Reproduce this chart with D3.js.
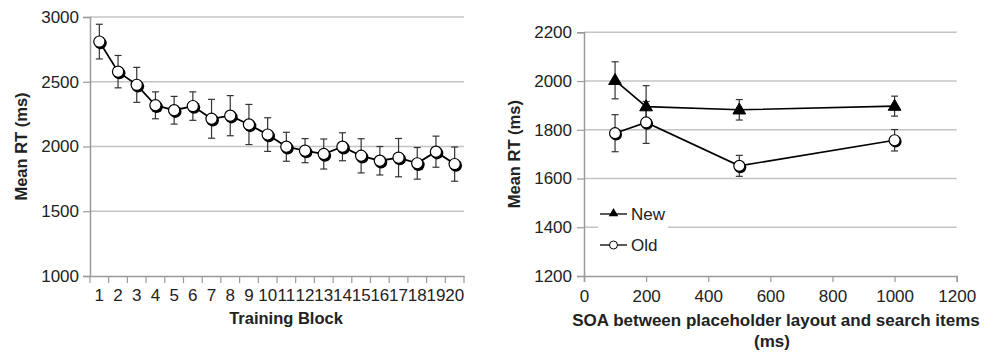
<!DOCTYPE html>
<html>
<head>
<meta charset="utf-8">
<script src="https://cdn.jsdelivr.net/npm/d3@7"></script>
<style>
  html, body { margin: 0; padding: 0; background: #fff; }
  svg { display: block; }
  text { font-family: "Liberation Sans", Arial, sans-serif; fill: #222; }
</style>
</head>
<body>
<svg id="chart" width="995" height="353"></svg>
<script>
// ---------- Data ----------
// Left panel: Mean RT across training blocks
const blocks = ["1","2","3","4","5","6","7","8","9","10","11","12","13","14","15","16","17","18","19","20"];
const blockRT = [2810, 2578, 2476, 2318, 2280, 2312, 2214, 2238, 2170, 2092, 1998, 1968, 1942, 1998, 1928, 1890, 1914, 1870, 1960, 1864];
const blockErr = [134, 125, 135, 104, 107, 110, 150, 155, 155, 130, 112, 93, 116, 108, 132, 110, 148, 122, 120, 132];
const leftYTicks = [1000, 1500, 2000, 2500, 3000];

// Right panel: Mean RT by SOA
const soa = [100, 200, 500, 1000];
const newRT = [2003, 1895, 1882, 1897];
const newErr = [76, 86, 42, 41];
const oldRT = [1786, 1830, 1652, 1757];
const oldErr = [76, 86, 43, 44];
const rightYTicks = [1200, 1400, 1600, 1800, 2000, 2200];
const rightXTicks = [0, 200, 400, 600, 800, 1000, 1200];

// ---------- Drawing ----------
const svg = d3.select("#chart");
const gridColor = "#c4c4c4";
const axisColor = "#9a9a9a";
const errColor = "#333";

// ===== Left panel =====
const L = { left: 90, right: 464, top: 17, bottom: 276 };
const xL = d3.scaleBand().domain(blocks).range([L.left, L.right]);
const yL = d3.scaleLinear().domain([1000, 3000]).range([L.bottom, L.top]);

const gL = svg.append("g");
gL.selectAll("line.grid").data(leftYTicks.filter(d => d > 1000)).join("line")
  .attr("x1", L.left).attr("x2", L.right)
  .attr("y1", d => yL(d)).attr("y2", d => yL(d))
  .attr("stroke", gridColor).attr("stroke-width", 1.5);

const yAxL = gL.append("g").attr("transform", `translate(${L.left},0)`)
  .call(d3.axisLeft(yL).tickValues(leftYTicks).tickSize(7).tickPadding(4).tickFormat(d3.format("d")));
yAxL.select(".domain").attr("stroke", axisColor).attr("stroke-width", 1.5);
yAxL.selectAll(".tick line").attr("stroke", axisColor).attr("stroke-width", 1.2);
yAxL.selectAll("text").attr("font-size", 17).attr("fill", "#222").style("font-family", "'Liberation Sans', Arial, sans-serif");

const xAxL = gL.append("g").attr("transform", `translate(0,${L.bottom})`)
  .call(d3.axisBottom(xL).tickSize(0).tickPadding(13));
xAxL.select(".domain").attr("stroke", axisColor).attr("stroke-width", 1.5);
xAxL.selectAll("text").attr("font-size", 17).attr("fill", "#222").style("font-family", "'Liberation Sans', Arial, sans-serif");
const boundaries = blocks.map(b => xL(b)).concat([xL(blocks[blocks.length - 1]) + xL.bandwidth()]);
gL.selectAll("line.xtick").data(boundaries).join("line")
  .attr("x1", d => d).attr("x2", d => d)
  .attr("y1", L.bottom).attr("y2", L.bottom + 7)
  .attr("stroke", axisColor).attr("stroke-width", 1.2);

const cxL = (d, i) => xL(blocks[i]) + xL.bandwidth() / 2;
const eb = gL.append("g");
blocks.forEach((b, i) => {
  const cx = cxL(null, i), hi = yL(blockRT[i] + blockErr[i]), lo = yL(blockRT[i] - blockErr[i]);
  eb.append("line").attr("x1", cx).attr("x2", cx).attr("y1", hi).attr("y2", lo).attr("stroke", errColor).attr("stroke-width", 1.2);
  eb.append("line").attr("x1", cx - 3.5).attr("x2", cx + 3.5).attr("y1", hi).attr("y2", hi).attr("stroke", errColor).attr("stroke-width", 1.2);
  eb.append("line").attr("x1", cx - 3.5).attr("x2", cx + 3.5).attr("y1", lo).attr("y2", lo).attr("stroke", errColor).attr("stroke-width", 1.2);
});

const lineL = d3.line().x((d, i) => cxL(d, i)).y(d => yL(d));
gL.append("path").datum(blockRT).attr("d", lineL)
  .attr("fill", "none").attr("stroke", "#000").attr("stroke-width", 1.8);

gL.selectAll("circle.sh").data(blockRT).join("circle")
  .attr("cx", (d, i) => cxL(d, i) + 1.2).attr("cy", d => yL(d) + 1.5)
  .attr("r", 6.2).attr("fill", "#000");
gL.selectAll("circle.mk").data(blockRT).join("circle")
  .attr("cx", (d, i) => cxL(d, i)).attr("cy", d => yL(d))
  .attr("r", 5.6).attr("fill", "#fff").attr("stroke", "#000").attr("stroke-width", 1.2);

gL.append("text").attr("transform", `translate(27,${(L.top + L.bottom) / 2}) rotate(-90)`)
  .attr("text-anchor", "middle").attr("font-size", 16.5).attr("font-weight", "bold")
  .text("Mean RT (ms)");
gL.append("text").attr("x", 286).attr("y", 324)
  .attr("text-anchor", "middle").attr("font-size", 16.5).attr("font-weight", "bold")
  .text("Training Block");

// ===== Right panel =====
const R = { left: 584, right: 956.7, top: 32.3, bottom: 276 };
const xR = d3.scaleLinear().domain([0, 1200]).range([R.left, R.right]);
const yR = d3.scaleLinear().domain([1200, 2200]).range([R.bottom, R.top]);
const gR = svg.append("g");

gR.selectAll("line.grid").data(rightYTicks.filter(d => d > 1200)).join("line")
  .attr("x1", R.left).attr("x2", R.right)
  .attr("y1", d => yR(d)).attr("y2", d => yR(d))
  .attr("stroke", gridColor).attr("stroke-width", 1.5);

const yAxR = gR.append("g").attr("transform", `translate(${R.left},0)`)
  .call(d3.axisLeft(yR).tickValues(rightYTicks).tickSize(7).tickPadding(5).tickFormat(d3.format("d")));
yAxR.select(".domain").attr("stroke", axisColor).attr("stroke-width", 1.5);
yAxR.selectAll(".tick line").attr("stroke", axisColor).attr("stroke-width", 1.2);
yAxR.selectAll("text").attr("font-size", 17).attr("fill", "#222").style("font-family", "'Liberation Sans', Arial, sans-serif");

const xAxR = gR.append("g").attr("transform", `translate(0,${R.bottom})`)
  .call(d3.axisBottom(xR).tickValues(rightXTicks).tickSize(6).tickPadding(8).tickFormat(d3.format("d")));
xAxR.select(".domain").attr("stroke", axisColor).attr("stroke-width", 1.5);
xAxR.selectAll(".tick line").attr("stroke", axisColor).attr("stroke-width", 1.2);
xAxR.selectAll("text").attr("font-size", 17).attr("fill", "#222").style("font-family", "'Liberation Sans', Arial, sans-serif");

gR.append("rect").attr("x", 598).attr("y", 201).attr("width", 70).attr("height", 55).attr("fill", "#fff");

function errBars(g, vals, errs) {
  soa.forEach((s, i) => {
    const cx = xR(s), hi = yR(vals[i] + errs[i]), lo = yR(vals[i] - errs[i]);
    g.append("line").attr("x1", cx).attr("x2", cx).attr("y1", hi).attr("y2", lo).attr("stroke", errColor).attr("stroke-width", 1.2);
    g.append("line").attr("x1", cx - 3.5).attr("x2", cx + 3.5).attr("y1", hi).attr("y2", hi).attr("stroke", errColor).attr("stroke-width", 1.2);
    g.append("line").attr("x1", cx - 3.5).attr("x2", cx + 3.5).attr("y1", lo).attr("y2", lo).attr("stroke", errColor).attr("stroke-width", 1.2);
  });
}
errBars(gR, oldRT, oldErr);
errBars(gR, newRT, newErr);

const lineR = d3.line().x((d, i) => xR(soa[i])).y(d => yR(d));
gR.append("path").datum(newRT).attr("d", lineR).attr("fill", "none").attr("stroke", "#000").attr("stroke-width", 1.6);
gR.append("path").datum(oldRT).attr("d", lineR).attr("fill", "none").attr("stroke", "#000").attr("stroke-width", 1.6);

const tri = d3.symbol().type(d3.symbolTriangle).size(70);
gR.selectAll("path.tri").data(newRT).join("path")
  .attr("d", tri).attr("transform", (d, i) => `translate(${xR(soa[i])},${yR(d) + 0.5})`)
  .attr("fill", "#000").attr("stroke", "#000").attr("stroke-width", 1);

gR.selectAll("circle.sh").data(oldRT).join("circle")
  .attr("cx", (d, i) => xR(soa[i]) + 1).attr("cy", d => yR(d) + 1.3)
  .attr("r", 6).attr("fill", "#000");
gR.selectAll("circle.mk").data(oldRT).join("circle")
  .attr("cx", (d, i) => xR(soa[i])).attr("cy", d => yR(d))
  .attr("r", 5.5).attr("fill", "#fff").attr("stroke", "#000").attr("stroke-width", 1.2);

const legendItems = ["New", "Old"];
const legY0 = [214, 245];
legendItems.forEach((name, i) => {
  const y = legY0[i];
  gR.append("line").attr("x1", 600).attr("x2", 627).attr("y1", y).attr("y2", y).attr("stroke", "#000").attr("stroke-width", 1.3);
  if (i === 0) {
    gR.append("path").attr("d", d3.symbol().type(d3.symbolTriangle).size(40)).attr("transform", `translate(613.5,${y - 0.5})`).attr("fill", "#000");
  } else {
    gR.append("circle").attr("cx", 613.5).attr("cy", y).attr("r", 4).attr("fill", "#fff").attr("stroke", "#000").attr("stroke-width", 1);
  }
  gR.append("text").attr("x", 631).attr("y", y).attr("dy", "0.36em").attr("font-size", 17).text(name);
});

gR.append("text").attr("transform", `translate(520,${(R.top + R.bottom) / 2}) rotate(-90)`)
  .attr("text-anchor", "middle").attr("font-size", 16.5).attr("font-weight", "bold")
  .text("Mean RT (ms)");
gR.append("text").attr("x", 776).attr("y", 326)
  .attr("text-anchor", "middle").attr("font-size", 17).attr("font-weight", "bold")
  .text("SOA between placeholder layout and search items");
gR.append("text").attr("x", 772).attr("y", 347)
  .attr("text-anchor", "middle").attr("font-size", 17).attr("font-weight", "bold")
  .text("(ms)");
</script>
</body>
</html>
